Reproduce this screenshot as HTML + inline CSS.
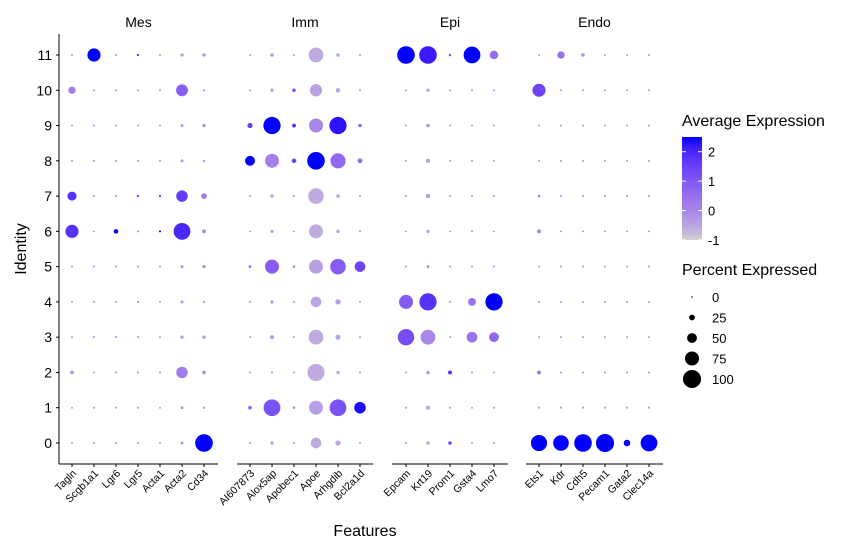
<!DOCTYPE html>
<html><head><meta charset="utf-8"><style>
body{margin:0;background:#fff}
svg text{font-family:"Liberation Sans",Arial,sans-serif;fill:#000}
</style></head><body>
<svg id="chart" width="862" height="549" xmlns="http://www.w3.org/2000/svg"></svg>
<script>
const panels = ["Mes","Imm","Epi","Endo"];
const genesMes = ["Tagln","Scgb1a1","Lgr6","Lgr5","Acta1","Acta2","Cd34"];
const genesImm = ["AI607873","Alox5ap","Apobec1","Apoe","Arhgdib","Bcl2a1d"];
const genesEpi = ["Epcam","Krt19","Prom1","Gsta4","Lmo7"];
const genesEndo = ["Ets1","Kdr","Cdh5","Pecam1","Gata2","Clec14a"];
const clusters = [0,1,2,3,4,5,6,7,8,9,10,11];
const yTicks = ["0","1","2","3","4","5","6","7","8","9","10","11"];
const colorTicks = [-1,0,1,2];
const sizeTicks = [0,25,50,75,100];
const pct = {
Tagln:[3,3,12,3,3,3,70,45,3,3,35,3],
Scgb1a1:[3,3,3,3,3,3,3,3,3,3,3,70],
Lgr6:[3,3,3,3,3,3,18,3,3,3,3,3],
Lgr5:[3,3,3,3,3,3,3,3,3,3,3,3],
Acta2:[8,8,60,10,8,8,92,60,8,8,62,10],
Acta1:[3,3,3,3,3,3,3,3,3,3,3,3],
Cd34:[97,4,12,10,4,10,14,25,4,10,4,10],
AI607873:[3,12,3,3,3,8,3,3,50,22,3,3],
Alox5ap:[12,92,4,15,10,75,10,10,75,95,10,12],
Apobec1:[3,5,3,3,3,5,3,3,18,14,12,3],
Apoe:[55,75,95,80,55,75,75,85,97,75,65,80],
Arhgdib:[22,92,10,22,22,85,12,12,82,95,18,12],
Bcl2a1d:[3,60,3,3,3,55,3,3,20,10,3,3],
Epcam:[3,3,3,90,75,3,3,3,3,3,3,97],
Krt19:[12,15,12,80,95,8,10,15,15,12,10,97],
Prom1:[12,3,14,3,3,3,3,3,3,3,3,6],
Gsta4:[3,3,3,55,38,3,3,3,3,3,3,92],
Lmo7:[3,3,3,50,95,3,3,3,3,3,3,42],
Ets1:[88,3,14,3,3,3,14,6,3,3,70,3],
Kdr:[85,3,3,3,3,3,3,3,3,3,3,35],
Cdh5:[97,3,3,3,3,3,3,3,3,3,3,12],
Pecam1:[100,3,3,3,3,3,3,3,3,3,3,3],
Gata2:[30,3,3,3,3,3,3,3,3,3,3,3],
Clec14a:[92,3,3,3,3,3,3,3,3,3,3,3]};
const avg = {
Tagln:[-0.3,-0.3,-0.2,-0.3,-0.3,-0.3,1.8,1.8,-0.2,-0.3,0.1,-0.3],
Scgb1a1:[-0.3,-0.3,-0.3,-0.2,-0.3,-0.3,-0.3,-0.3,-0.2,-0.2,-0.2,2.5],
Lgr6:[-0.2,-0.2,-0.2,-0.2,-0.2,-0.2,2.5,-0.2,-0.2,-0.2,-0.2,-0.2],
Lgr5:[-0.2,-0.3,-0.2,-0.2,0,-0.2,0,2.2,-0.2,-0.3,-0.2,2.3],
Acta1:[-0.3,-0.3,-0.2,-0.3,-0.3,-0.3,2.5,2.0,-0.3,-0.3,-0.3,-0.3],
Acta2:[-0.2,-0.2,0.2,-0.3,-0.3,-0.2,2.0,1.6,-0.2,-0.2,0.8,-0.3],
Cd34:[2.5,-0.2,-0.1,-0.2,-0.3,-0.1,-0.1,0.2,-0.2,-0.1,-0.2,-0.1],
AI607873:[-0.3,0.8,-0.3,-0.3,-0.3,0.2,-0.3,-0.3,2.5,1.5,-0.3,-0.3],
Alox5ap:[-0.5,1.1,-0.3,-0.4,-0.3,0.9,-0.4,-0.4,0.1,2.5,-0.3,-0.4],
Apobec1:[-0.3,0.4,-0.3,-0.3,-0.3,0.4,-0.3,-0.3,1.5,1.8,1.2,-0.3],
Apoe:[-0.6,-0.4,-0.6,-0.6,-0.5,-0.4,-0.6,-0.6,2.5,0,-0.5,-0.6],
Arhgdib:[-0.5,1.1,-0.4,-0.5,-0.4,0.9,-0.5,-0.5,0.6,2.3,-0.5,-0.5],
Bcl2a1d:[-0.3,2.4,-0.3,-0.3,-0.3,1.4,-0.3,-0.3,0.5,1.0,-0.3,-0.3],
Epcam:[-0.3,-0.3,-0.3,1.2,0.9,-0.3,-0.3,-0.3,-0.3,-0.3,-0.3,2.5],
Krt19:[-0.5,-0.5,-0.4,0.0,1.8,-0.3,-0.4,-0.3,-0.4,-0.3,-0.4,2.2],
Prom1:[1.3,-0.3,1.8,-0.3,-0.3,-0.3,-0.3,-0.3,-0.3,-0.3,-0.3,0.8],
Gsta4:[-0.3,-0.3,-0.3,0.4,0.4,-0.3,-0.3,-0.3,-0.3,-0.3,-0.3,2.5],
Lmo7:[-0.3,-0.3,-0.3,0.6,2.5,-0.3,-0.3,-0.3,-0.3,-0.3,-0.3,0.5],
Ets1:[2.5,-0.3,0.3,-0.3,-0.3,-0.3,0.1,0.1,-0.3,-0.3,1.4,-0.3],
Kdr:[2.5,-0.3,-0.3,-0.3,-0.3,-0.3,-0.3,-0.3,-0.3,-0.3,-0.3,0.4],
Cdh5:[2.5,-0.3,-0.3,-0.3,-0.3,-0.3,-0.3,-0.3,-0.3,-0.3,-0.3,-0.2],
Pecam1:[2.5,-0.3,-0.3,-0.3,-0.3,-0.3,-0.3,-0.3,-0.3,-0.3,-0.3,-0.3],
Gata2:[2.5,-0.3,-0.3,-0.3,-0.3,-0.3,-0.3,-0.3,-0.3,-0.3,-0.3,-0.3],
Clec14a:[2.5,-0.3,-0.3,-0.3,-0.3,-0.3,-0.3,-0.3,-0.3,-0.3,-0.3,-0.3]};

const NS="http://www.w3.org/2000/svg";
const svg=document.getElementById('chart');
function mk(tag,attrs,parent){const e=document.createElementNS(NS,tag);for(const k in attrs)e.setAttribute(k,attrs[k]);(parent||svg).appendChild(e);return e;}
const panelGenes=[genesMes,genesImm,genesEpi,genesEndo];
const panelX=[[59,218],[237,373],[392,508],[526,663]];
const panelFirst=[72,250,406,539];
const step=22;
function yScale(c){return 443-c*(443-55)/11;}
function sizeScale(p){return 1.6+0.165*p;}
const cmin=-1,cmax=2.5;
function lab2rgb(L,a,b){let y=(L+16)/116,x=a/500+y,z=y-b/200;
 const f=t=>t*t*t>0.008856?t*t*t:(t-16/116)/7.787;
 x=0.95047*f(x);y=f(y);z=1.08883*f(z);
 let r=x*3.2406+y*-1.5372+z*-0.4986,g=x*-0.9689+y*1.8758+z*0.0415,bb=x*0.0557+y*-0.2040+z*1.0570;
 const gm=v=>{v=v>0.0031308?1.055*Math.pow(v,1/2.4)-0.055:12.92*v;return Math.round(Math.max(0,Math.min(1,v))*255);};
 return `rgb(${gm(r)},${gm(g)},${gm(bb)})`;}
const g0=[84.6,0,0],g1=[32.3,79.2,-107.9];
function colorScale(v){let t=(v-cmin)/(cmax-cmin);t=Math.max(0,Math.min(1,t));t=Math.pow(t,0.7);
 return lab2rgb(g0[0]+(g1[0]-g0[0])*t,g0[1]+(g1[1]-g0[1])*t,g0[2]+(g1[2]-g0[2])*t);}

const yax=mk('line',{x1:59,x2:59,y1:34,y2:464,stroke:'#000','stroke-width':1});

clusters.forEach((c,i)=>{const y=yScale(c);
 mk('line',{x1:56,x2:59,y1:y,y2:y,stroke:'#000'});
 const t=mk('text',{x:52,y:y+5,'text-anchor':'end','font-size':14});t.textContent=yTicks[i];
 });
const yt=mk('text',{x:0,y:0,'font-size':16,'text-anchor':'middle',transform:'translate(26,249) rotate(-90)'});yt.textContent='Identity';

const xt=mk('text',{x:365,y:536,'font-size':16,'text-anchor':'middle'});xt.textContent='Features';


panels.forEach((p,pi)=>{
 const [x0,x1]=panelX[pi];
 const ft=mk('text',{x:(x0+x1)/2,y:27,'font-size':14,'text-anchor':'middle'});ft.textContent=p;
 
 const ax=mk('line',{x1:x0,x2:x1,y1:464,y2:464,stroke:'#000'});
 
 panelGenes[pi].forEach((gname,gi)=>{
  const x=panelFirst[pi]+gi*step;
  mk('line',{x1:x,x2:x,y1:464,y2:467,stroke:'#000'});
  const tl=mk('text',{x:0,y:0,'font-size':10.5,'text-anchor':'end',transform:`translate(${x+5},${474}) rotate(-45)`});tl.textContent=gname;
  
  clusters.forEach((c,ci)=>{
   const d=sizeScale(pct[gname][ci]);
   const dot=mk('circle',{cx:x,cy:yScale(c),r:d/2,fill:colorScale(avg[gname][ci])});
   
   
  });
 });
});

const lt=mk('text',{x:682,y:126,'font-size':16});lt.textContent='Average Expression';

const defs=mk('defs',{});const lg=mk('linearGradient',{id:'cg',x1:0,y1:1,x2:0,y2:0},defs);
for(let i=0;i<=10;i++){mk('stop',{offset:(i/10),'stop-color':colorScale(cmin+(cmax-cmin)*i/10)},lg);}
const barTop=137,barBot=240;
function cy(v){return barBot-(v-cmin)/(cmax-cmin)*(barBot-barTop);}
const bar=mk('rect',{x:682,y:barTop,width:20,height:barBot-barTop,fill:'url(#cg)'});

colorTicks.forEach(v=>{const y=cy(v);
 mk('line',{x1:682,x2:686,y1:y,y2:y,stroke:'#fff'});mk('line',{x1:698,x2:702,y1:y,y2:y,stroke:'#fff'});
 const t=mk('text',{x:708,y:y+5,'font-size':13});t.textContent=String(v);
 });
const st=mk('text',{x:682,y:275,'font-size':16});st.textContent='Percent Expressed';

sizeTicks.forEach((v,i)=>{const y=297+i*20.5;
 const c=mk('circle',{cx:692,cy:y,r:sizeScale(v)/2,fill:'#000'});
 
 const t=mk('text',{x:712,y:y+5,'font-size':13});t.textContent=String(v);
 });
</script>
</body></html>
